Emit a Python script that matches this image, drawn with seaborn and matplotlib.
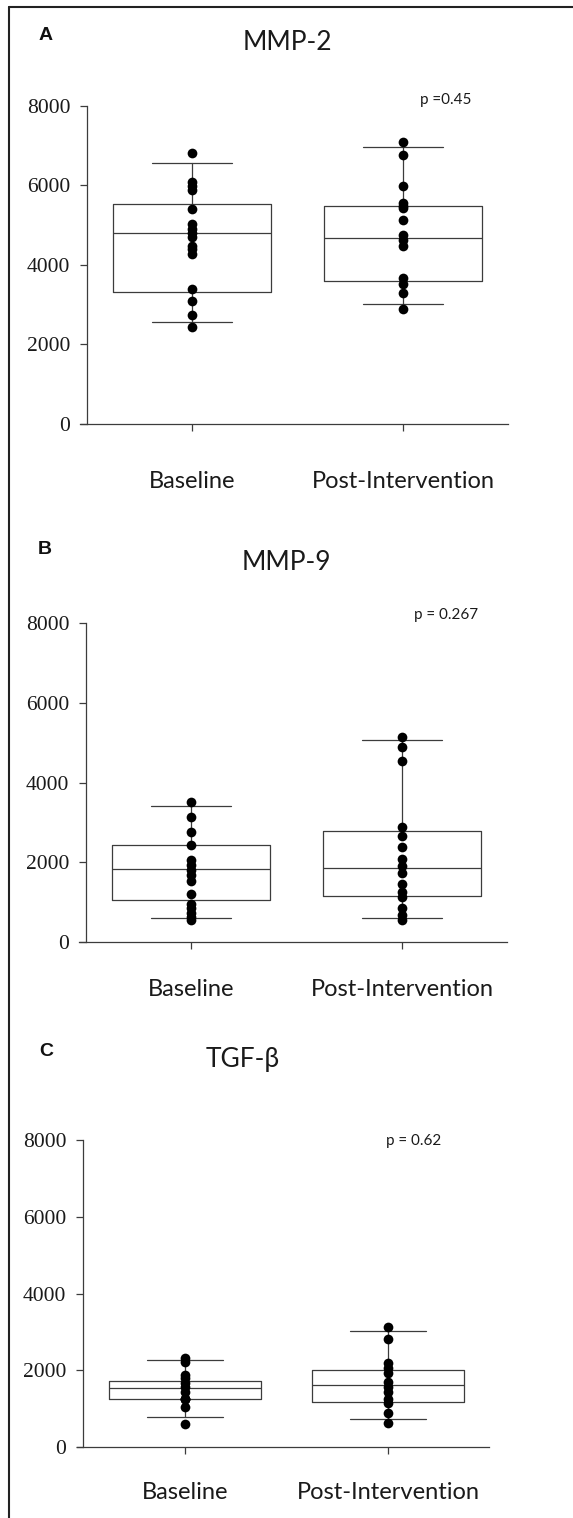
import matplotlib
matplotlib.use("Agg")
import matplotlib.pyplot as plt
import seaborn as sns
import pandas as pd
from matplotlib.lines import Line2D

groups = ["Baseline", "Post-Intervention"]
titles = ["MMP-2", "MMP-9", "TGF-β"]
panel_letters = ["A", "B", "C"]
p_labels = ["p =0.45", "p = 0.267", "p = 0.62"]
y_ticks = [0, 2000, 4000, 6000, 8000]

mmp2_base = [6820, 6090, 5980, 5880, 5400, 5030, 4900, 4790, 4690, 4480, 4390, 4270, 3390, 3080, 2740, 2450]
mmp2_post = [7100, 6760, 5980, 5550, 5480, 5420, 5130, 4750, 4620, 4480, 3660, 3530, 3300, 2880]
mmp9_base = [3520, 3140, 2750, 2430, 2050, 1930, 1800, 1680, 1530, 1200, 940, 840, 730, 630, 550]
mmp9_post = [5150, 4900, 4540, 2890, 2660, 2390, 2090, 1890, 1720, 1450, 1260, 1130, 850, 670, 550]
tgfb_base = [2320, 2230, 1880, 1800, 1670, 1580, 1450, 1250, 1250, 1250, 1060, 610]
tgfb_post = [3140, 2810, 2190, 2060, 1940, 1710, 1580, 1450, 1250, 1150, 890, 640]

# box stats: whisker low, Q1, median, Q3, whisker high
mmp2_base_box = [2560, 3330, 4790, 5520, 6550]
mmp2_post_box = [3020, 3600, 4670, 5490, 6970]
mmp9_base_box = [600, 1060, 1820, 2430, 3410]
mmp9_post_box = [600, 1160, 1840, 2790, 5080]
tgfb_base_box = [780, 1250, 1540, 1730, 2270]
tgfb_post_box = [730, 1190, 1610, 2000, 3030]

points = [(mmp2_base, mmp2_post), (mmp9_base, mmp9_post), (tgfb_base, tgfb_post)]
boxes = [(mmp2_base_box, mmp2_post_box), (mmp9_base_box, mmp9_post_box), (tgfb_base_box, tgfb_post_box)]

W, H = 573, 1518
LINE = "#3c3c3c"

# layout in pixels: x left, x right, y of 0, y of 8000
ax_px = [(80, 508, 424, 105.7), (79, 507, 941.7, 623.3), (77, 489, 1447.3, 1140)]
spine_px = [87, 86, 83]
letter_xy = [(46, 36), (45, 549), (46, 1052)]
title_xy = [(287, 43), (286, 562), (243, 1060)]
p_xy = [(446, 100), (446, 615), (414, 1141)]
label_pad = [29, 22, 20]

sns.set_style("ticks")
plt.rcParams["font.family"] = ["Lato", "DejaVu Sans"]

fig = plt.figure(figsize=(W / 100, H / 100), dpi=100)

for i in range(3):
    x0, x1, yb, yt = ax_px[i]
    ax = fig.add_axes([x0 / W, 1 - yb / H, (x1 - x0) / W, (yb - yt) / H])

    base, post = points[i]
    df = pd.DataFrame({
        "group": [groups[0]] * len(base) + [groups[1]] * len(post),
        "value": base + post,
    })

    stats = []
    for g, b in zip(groups, boxes[i]):
        stats.append({"label": g, "whislo": b[0], "q1": b[1], "med": b[2],
                      "q3": b[3], "whishi": b[4]})
    lp = dict(color=LINE, linewidth=0.9)
    ax.bxp(stats, positions=[0, 1], widths=0.75, capwidths=0.375,
           showfliers=False, manage_ticks=False,
           boxprops=lp, medianprops=lp, whiskerprops=lp, capprops=lp)

    sns.stripplot(data=df, x="group", y="value", order=groups, jitter=False,
                  color="black", size=7, ax=ax, zorder=3)

    ax.set_xlim(-0.531, 1.498)
    ax.set_ylim(0, 8000)
    ax.set_yticks(y_ticks)
    ax.set_xlabel("")
    ax.set_ylabel("")
    ax.set_facecolor("none")

    for s in ["top", "right"]:
        ax.spines[s].set_visible(False)
    for s in ["left", "bottom"]:
        ax.spines[s].set_color(LINE)
        ax.spines[s].set_linewidth(0.9)
    ax.spines["left"].set_position(("axes", (spine_px[i] - x0) / (x1 - x0)))

    ax.tick_params(axis="y", length=5, width=0.9, color=LINE, pad=7,
                   labelsize=15.5, labelcolor="#1a1a1a")
    ax.tick_params(axis="x", length=5, width=0.9, color=LINE, pad=label_pad[i],
                   labelsize=17, labelcolor="#1a1a1a")
    for lbl in ax.get_yticklabels():
        lbl.set_fontfamily(["Liberation Serif", "DejaVu Serif"])

    lx, ly = letter_xy[i]
    fig.text(lx / W, 1 - ly / H, panel_letters[i], ha="center", va="center",
             fontsize=14, fontweight="bold", family=["Liberation Sans", "DejaVu Sans"],
             color="#111111")
    tx, ty = title_xy[i]
    fig.text(tx / W, 1 - ty / H, titles[i], ha="center", va="center",
             fontsize=19, color="#1a1a1a")
    px, py = p_xy[i]
    fig.text(px / W, 1 - py / H, p_labels[i], ha="center", va="center",
             fontsize=11, color="#1a1a1a")

# outer frame (left and top edges visible)
fig.add_artist(Line2D([9 / W, 9 / W], [0, 1 - 7 / H], color="#222222", linewidth=1.5))
fig.add_artist(Line2D([9 / W, 1], [1 - 7 / H, 1 - 7 / H], color="#222222", linewidth=1.5))

fig.savefig("out.png", dpi=100)
